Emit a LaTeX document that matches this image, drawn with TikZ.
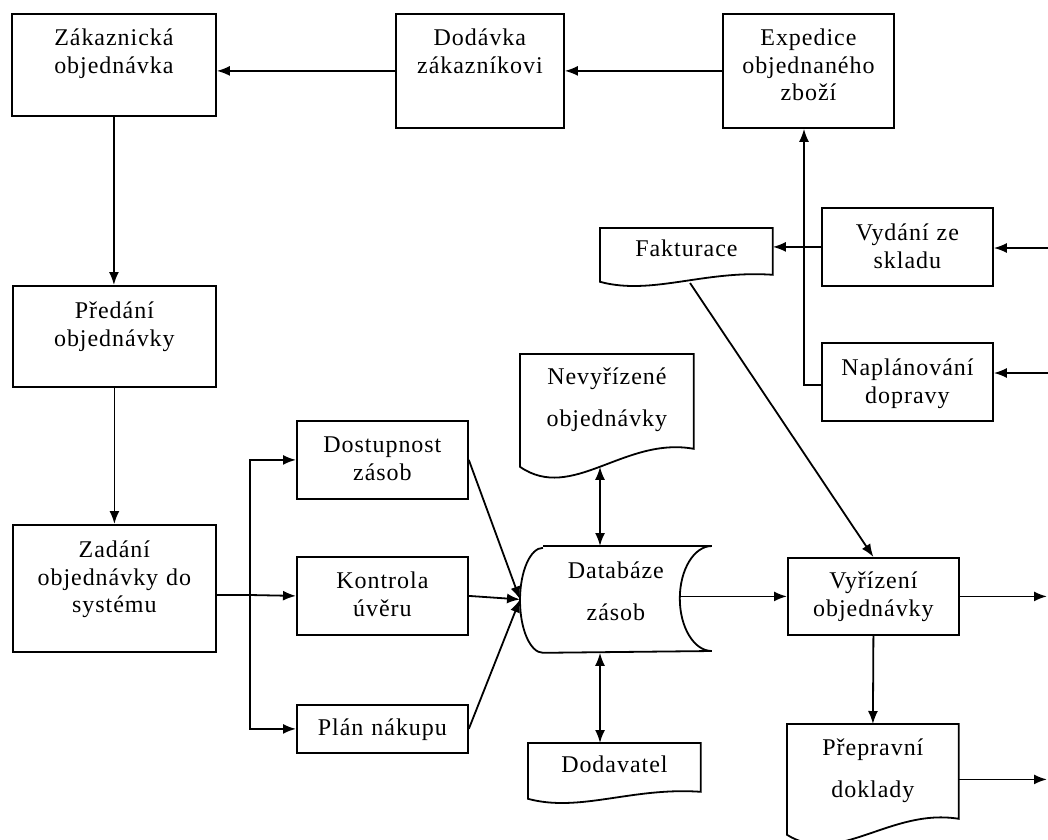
\documentclass[tikz,border=0pt]{standalone}
\usepackage{fontspec}
\setmainfont{Liberation Serif}[LetterSpace=4.0]
\usetikzlibrary{arrows.meta,calc}

\newcommand{\boxfont}{\fontsize{24}{27.5}\selectfont}
\newcommand{\docfont}{\fontsize{24}{41.5}\selectfont}
% obrys dokumentu se spodni vlnovkou
\newcommand{\dokobrys}[2]{%
  \draw (#1.north west) -- (#1.south west)
    .. controls ($(#1.south west)!0.3!(#1.south east)+(0,-2*#2pt)$)
    and ($(#1.south west)!0.6!(#1.south east)+(0,1.7*#2pt)$)
    .. ($(#1.south east)+(0,#2pt)$) -- (#1.north east) -- cycle;}

\begin{document}
\begin{tikzpicture}[x=1pt, y=-1pt, line width=1.8pt, >={Latex[length=13pt,width=10pt]},
  blok/.style={draw, inner sep=0pt, anchor=north west, align=center, font=\boxfont},
  dok/.style={inner sep=0pt, anchor=north west, align=center, font=\docfont}]
\useasboundingbox (0,0) rectangle (1048,839);

\node[blok, text width=204pt, text height=32pt, text depth=70pt] (zak) at (11,13) {Zákaznická\\objednávka};
\node[blok, text width=168pt, text height=32pt, text depth=82pt] (dod) at (395,13) {Dodávka\\zákazníkovi};
\node[blok, text width=171pt, text height=32pt, text depth=82pt] (exp) at (722,13) {Expedice\\objednaného\\zboží};
\node[blok, text width=203pt, text height=33pt, text depth=68pt] (pred) at (12,285) {Předání\\objednávky};
\node[blok, text width=203pt, text height=33pt, text depth=94pt] (zad) at (12,524) {Zadání\\objednávky do\\systému};

\node[blok, text width=171pt, text height=32pt, text depth=46pt] (dost) at (296,420) {Dostupnost\\zásob};
\node[blok, text width=171pt, text height=32pt, text depth=46pt] (kont) at (296,556) {Kontrola\\úvěru};
\node[blok, text width=171pt, text height=31pt, text depth=17pt] (plan) at (296,704) {Plán nákupu};

\node[blok, text width=171pt, text height=33pt, text depth=45pt] (vyd) at (821,207) {Vydání ze\\skladu};
\node[blok, text width=171pt, text height=33pt, text depth=45pt] (napl) at (821,342) {Naplánování\\dopravy};
\node[blok, text width=171pt, text height=31pt, text depth=46pt] (vyr) at (787,557) {Vyřízení\\objednávky};

% dokumenty
\node[dok, text width=171pt, text height=28pt, text depth=24pt] (fakt) at (600,228) {Fakturace};
\dokobrys{fakt}{7}
\node[dok, text width=172pt, text height=30pt, text depth=81pt] (nev) at (520,354) {Nevyřízené\\objednávky};
\dokobrys{nev}{18}
\node[dok, text width=171pt, text height=29pt, text depth=25pt] (dodv) at (528,743) {Dodavatel};
\dokobrys{dodv}{7}
\node[dok, text width=170pt, text height=31pt, text depth=78pt] (prep) at (787,724) {Přepravní\\doklady};
\dokobrys{prep}{16}

% databaze
\node[dok, text width=190pt, text height=32pt, text depth=73pt] (db) at (520,546) {Databáze\\zásob};
\draw ([xshift=23pt]db.north west) -- (db.north east)
  arc[start angle=90, end angle=270, x radius=32pt, y radius=52.5pt]
  -- ([xshift=23pt]db.south west)
  arc[start angle=270, end angle=90, x radius=23pt, y radius=52.5pt];

\coordinate (br) at (250,595);
\coordinate (dbx) at (600,0);
\coordinate (dbr) at ([xshift=-32pt]db.east);
\coordinate (vx) at (804,385);
\coordinate (fb) at (690,283);
\coordinate (out) at (1047,0);
\coordinate (in1) at (1048,248);
\coordinate (in2) at (1048,373);

\draw[->] (exp.west) -- (exp.west -| dod.east);
\draw[->] (dod.west) -- (dod.west -| zak.east);
\draw[->] (zak.south) -- (zak.south |- pred.north);
\draw[->] (pred.south) -- (zad.north);

\draw (zad.east |- br) -- (br);
\draw[->] (br) |- (dost.west);
\draw[->] (br) -- (kont.west);
\draw[->] (br) |- (plan.west);
\draw[->] (dost.east) -- (db.west);
\draw[->] (kont.east) -- (db.west);
\draw[->] (plan.east) -- (db.west);

\draw[<->] (nev.south -| dbx) -- (db.north -| dbx);
\draw[<->] (db.south -| dbx) -- (dodv.north -| dbx);
\draw[->] (dbr |- vyr.west) -- (vyr.west);
\draw[->] (vyr.east) -- (vyr.east -| out);
\draw[->] (vyr.south) -- (prep.north);
\draw[->] (prep.east) -- (prep.east -| out);

\draw[->] (in1) -- (in1 -| vyd.east);
\draw[->] (in2) -- (in2 -| napl.east);
\draw[->] (vyd.west) -- (vyd.west -| fakt.east);
\draw[->] (napl.west |- vx) -- (vx) -- (vx |- exp.south);
\draw[->] (fb) -- (vyr.north);

\end{tikzpicture}
\end{document}
